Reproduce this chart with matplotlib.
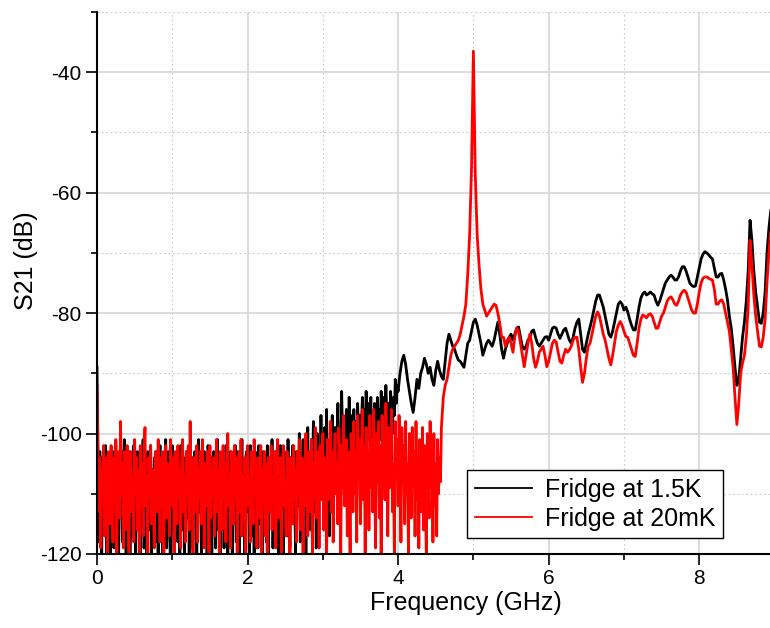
import numpy as np
import matplotlib
matplotlib.use("Agg")
import matplotlib.pyplot as plt
from matplotlib.ticker import MultipleLocator

plt.rcParams['font.family'] = ['Liberation Sans', 'DejaVu Sans']
plt.rcParams['axes.unicode_minus'] = False

# The sweep was taken with a fine step in the noisy low band and a coarser
# step above it.  Each series is stored as (start GHz, step GHz, values).

# Fridge at 1.5 K -- noise band, 0 .. 3.9875 GHz in 12.5 MHz steps
s21_1p5K_low = [
    -89, -106, -118, -103, -111, -121, -104, -108, -115, -102, -120, -107, -105, -113, -121, -104,
    -110, -103, -119, -106, -102, -116, -109, -121, -104, -112, -103, -118, -107, -101, -114, -120,
    -105, -109, -103, -121, -111, -104, -117, -102, -108, -120, -106, -103, -115, -110, -121, -104,
    -107, -101, -119, -112, -105, -121, -103, -109, -116, -102, -120, -106, -111, -104, -118, -103,
    -110, -121, -105, -102, -117, -108, -120, -104, -113, -101, -119, -107, -103, -115, -121, -106,
    -102, -112, -120, -104, -109, -103, -118, -106, -121, -102, -111, -116, -104, -120, -107, -103,
    -114, -105, -121, -102, -108, -119, -104, -110, -103, -117, -121, -106, -101, -113, -108, -120,
    -104, -111, -103, -118, -106, -121, -102, -109, -115, -104, -120, -107, -103, -112, -119, -105,
    -101, -116, -108, -121, -104, -110, -103, -119, -106, -102, -114, -120, -105, -109, -103, -117,
    -121, -104, -107, -102, -118, -110, -103, -120, -106, -112, -101, -116, -108, -121, -104, -103,
    -113, -106, -120, -102, -109, -117, -104, -121, -103, -111, -106, -119, -102, -108, -115, -104,
    -120, -103, -110, -105, -118, -102, -121, -107, -104, -113, -101, -119, -106, -109, -103, -116,
    -104, -121, -108, -102, -114, -106, -120, -103, -110, -105, -117, -101, -112, -119, -104, -107,
    -102, -115, -109, -120, -103, -106, -112, -100, -118, -105, -108, -101, -114, -104, -121, -103,
    -99, -110, -105, -116, -101, -107, -98, -113, -104, -119, -100, -106, -102, -111, -97, -108,
    -103, -114, -99, -106, -96, -110, -102, -117, -100, -105, -97, -112, -103, -99, -108, -101,
    -95, -104, -99, -110, -93, -101, -106, -98, -103, -96, -108, -100, -94, -102, -105, -97,
    -100, -96, -103, -98, -106, -95, -101, -97, -104, -99, -94, -102, -96, -100, -93, -98,
    -101, -95, -99, -94, -103, -97, -100, -95, -98, -102, -94, -99, -96, -101, -93, -97,
    -100, -94, -98, -92, -97, -101, -95, -99, -93, -96, -100, -94, -97, -91, -95, -92,
]

# Fridge at 1.5 K -- 4.0 .. 8.95 GHz in 25 MHz steps
s21_1p5K_high = [
    -93, -90, -88, -87, -88.5, -91, -93, -95, -96.5, -94,
    -91, -92.5, -90, -89, -87.5, -88.5, -90, -89, -91, -92,
    -89.5, -88, -89.5, -90.5, -91, -88, -85, -83.5, -84.5, -85.5,
    -86, -87, -87.8, -88, -88.5, -89, -87, -85, -84.5, -83,
    -81.5, -81, -82, -83.5, -85, -87, -86, -85, -84.5, -85,
    -85.5, -84.5, -83, -81.5, -83.5, -86, -87.5, -86, -85, -84,
    -83.5, -84.5, -83.5, -82.5, -82.3, -84, -85.5, -86, -85.5, -84.5,
    -84, -83, -82.8, -84, -85, -85.5, -85, -84.5, -84, -83.9,
    -84.5, -83.5, -82.5, -82.3, -82.5, -83.5, -84.2, -83.5, -82.8, -82.5,
    -83.5, -84.5, -85, -84, -82.5, -81.5, -81, -83.5, -86, -86.5,
    -85, -83.5, -82.3, -81, -79.5, -78, -77, -77, -78, -79,
    -80.5, -82, -83.5, -84, -83, -81.5, -80, -78.5, -78.1, -78.5,
    -79.5, -79, -79.8, -81, -82, -82.8, -82.8, -81, -79, -77.5,
    -76.8, -76.5, -77, -76.8, -76.5, -76.8, -77, -78, -78.7, -78,
    -77, -76, -75, -74.5, -74, -73.7, -74, -74.5, -74.5, -74,
    -73, -72.3, -72.3, -73, -74, -75, -75.4, -75.6, -75.5, -74,
    -72.5, -71, -70.2, -69.8, -70, -70.3, -70.7, -71, -72.5, -74,
    -74, -73.5, -73.4, -74.5, -76, -77.8, -80.5, -82.5, -85.5, -89,
    -92, -91, -87.5, -84, -81.5, -78, -73, -64.6, -68, -73,
    -76.5, -79, -81.5, -81.7, -80, -76.5, -70, -66, -63,
]

# Fridge at 20 mK -- noise band, 0 .. 4.5625 GHz in 12.5 MHz steps
s21_20mK_low = [
    -92, -101, -113, -104, -119, -106, -111, -102, -117, -108, -104, -121, -103, -110, -115, -102,
    -109, -118, -104, -112, -101, -120, -106, -103, -114, -98, -110, -105, -119, -103, -108, -116,
    -102, -111, -121, -105, -103, -113, -107, -118, -101, -109, -104, -116, -106, -122, -102, -110,
    -105, -117, -103, -99, -112, -107, -120, -104, -108, -102, -115, -106, -111, -119, -103, -106,
    -113, -101, -108, -118, -104, -110, -103, -121, -107, -102, -114, -105, -109, -117, -101, -106,
    -112, -104, -120, -103, -108, -115, -102, -110, -106, -119, -104, -101, -113, -107, -118, -103,
    -109, -102, -116, -98, -111, -105, -121, -104, -107, -113, -102, -118, -106, -110, -103, -115,
    -101, -108, -119, -105, -112, -103, -107, -120, -102, -114, -106, -110, -104, -117, -108, -101,
    -113, -106, -121, -103, -109, -116, -102, -111, -105, -118, -104, -100, -112, -107, -119, -103,
    -108, -115, -102, -110, -104, -120, -106, -103, -113, -101, -117, -107, -111, -104, -121, -105,
    -102, -112, -107, -118, -103, -109, -115, -101, -110, -105, -119, -104, -108, -114, -102, -120,
    -106, -111, -103, -117, -105, -122, -104, -108, -113, -102, -116, -107, -110, -103, -119, -105,
    -101, -114, -108, -104, -120, -106, -102, -112, -109, -117, -103, -110, -105, -121, -104, -107,
    -115, -102, -111, -106, -118, -103, -109, -101, -116, -107, -104, -120, -105, -112, -100, -110,
    -117, -103, -108, -113, -101, -121, -105, -110, -99, -114, -106, -103, -119, -102, -109, -111,
    -100, -116, -104, -108, -121, -101, -111, -106, -98, -113, -103, -118, -105, -100, -110, -107,
    -115, -99, -104, -120, -102, -109, -97, -112, -106, -101, -117, -103, -108, -121, -100, -105,
    -113, -98, -110, -103, -118, -97, -106, -101, -115, -104, -96, -111, -102, -120, -99, -107,
    -103, -116, -97, -109, -101, -113, -96, -105, -119, -100, -108, -98, -114, -102, -121, -97,
    -106, -100, -111, -95, -104, -117, -99, -109, -102, -96, -113, -105, -120, -98, -107, -101,
    -112, -97, -104, -118, -99, -108, -102, -115, -98, -110, -105, -120, -100, -106, -114, -99,
    -109, -103, -117, -98, -111, -104, -119, -101, -107, -113, -99, -116, -102, -110, -121, -100,
    -106, -114, -98, -109, -103, -118, -100, -112, -105, -117, -101, -110, -104, -108,
]

# Fridge at 20 mK -- 4.575 .. 8.95 GHz in 25 MHz steps (resonance near 5 GHz)
s21_20mK_high = [
    -99, -94, -92, -91, -89, -87, -86,
    -85.5, -85, -84.5, -83.5, -82, -80.5, -78.5, -73.5, -67, -56,
    -36.5, -57, -67, -72, -76, -78.5, -79.5, -80.5, -80, -79.5,
    -79, -78.5, -78.7, -80, -81.7, -84, -84, -85.5, -84.5, -84,
    -85, -86.5, -84, -82.5, -83, -85, -87, -88.9, -87, -85,
    -83.5, -85, -87.5, -89, -88, -86.5, -86, -85.5, -87, -88.9,
    -88, -86.5, -85, -84.5, -84.8, -86.5, -88, -88.3, -87, -86,
    -86.5, -86.1, -85.5, -84.5, -84, -84, -86, -89, -91.5, -90,
    -87.5, -85.5, -85, -83.5, -82, -80.5, -79.8, -80.5, -82, -83.5,
    -84.5, -86, -87.5, -88.6, -87, -85, -83, -82, -81.4, -82,
    -83, -83.9, -84, -85, -86, -87, -87.2, -85, -82.5, -81,
    -80.3, -80.5, -80.8, -80.3, -80.1, -80.5, -81.5, -82.5, -82.5, -81.5,
    -80.5, -80, -79, -78, -77.5, -77.3, -77.8, -78.5, -78.7, -78,
    -77, -76.5, -76.2, -76.5, -77.5, -78.5, -79.5, -80, -80, -78.5,
    -76.5, -75, -74.2, -74, -74, -74.2, -74.4, -74.5, -76, -78.5,
    -78.5, -78, -77.8, -78.5, -80, -81.5, -83, -86, -89, -94,
    -98.5, -95, -90, -88.3, -87, -84, -79, -67.9, -72, -77,
    -80.5, -83, -85.5, -85.6, -84, -81, -75, -70, -66.5,
]

bands_1p5K = [(0.0, 0.0125, s21_1p5K_low), (4.0, 0.025, s21_1p5K_high)]
bands_20mK = [(0.0, 0.0125, s21_20mK_low), (4.575, 0.025, s21_20mK_high)]

series_labels = ["Fridge at 1.5K", "Fridge at 20mK"]
series_colors = ["black", "#ff0000"]

x_ticks = [0, 2, 4, 6, 8]
y_ticks = [-120, -100, -80, -60, -40]


def assemble(bands):
    f_parts, v_parts = [], []
    for start, step, vals in bands:
        f_parts.append(start + np.arange(len(vals)) * step)
        v_parts.append(np.asarray(vals, dtype=float))
    return np.concatenate(f_parts), np.concatenate(v_parts)


fig = plt.figure(figsize=(7.7, 6.28), dpi=100)
ax = fig.add_axes([97 / 770, 74 / 628, 673 / 770, 542 / 628])

for bands, lab, col in zip([bands_1p5K, bands_20mK], series_labels, series_colors):
    f, v = assemble(bands)
    ax.plot(f, v, color=col, lw=2.0, label=lab, zorder=3)

ax.set_xlim(0, 8.94)
ax.set_ylim(-120, -30)
ax.set_xticks(x_ticks)
ax.set_yticks(y_ticks)
ax.xaxis.set_minor_locator(MultipleLocator(1))
ax.yaxis.set_minor_locator(MultipleLocator(10))

ax.grid(which='major', color='#d9d9d9', lw=1.3, ls='-', zorder=0)
ax.grid(which='minor', color='#c8c8c8', lw=0.8, ls=(0, (1.5, 2.5)), zorder=0)
ax.set_axisbelow(True)

for side in ('top', 'right'):
    ax.spines[side].set_visible(False)
for side in ('left', 'bottom'):
    ax.spines[side].set_linewidth(1.5)
    ax.spines[side].set_zorder(5)

ax.tick_params(which='major', length=8, width=1.2, labelsize=15, pad=3, direction='out')
ax.tick_params(which='minor', length=4.5, width=1.2, direction='out')

ax.set_xlabel("Frequency (GHz)", fontsize=18)
ax.set_ylabel("S21 (dB)", fontsize=18)
ax.xaxis.set_label_coords(0.548, -0.068)
ax.yaxis.set_label_coords(-0.088, 0.542)

leg = ax.legend(loc='lower right', bbox_to_anchor=(0.930, 0.0295), borderaxespad=0,
                fontsize=18, frameon=True, fancybox=False, framealpha=1,
                edgecolor='black', handlelength=2.3, labelspacing=0.2,
                borderpad=0.3, handletextpad=0.5)
leg.get_frame().set_linewidth(1.0)
for h in leg.get_lines():
    h.set_linewidth(1.3)

fig.savefig("out.png", dpi=100)
